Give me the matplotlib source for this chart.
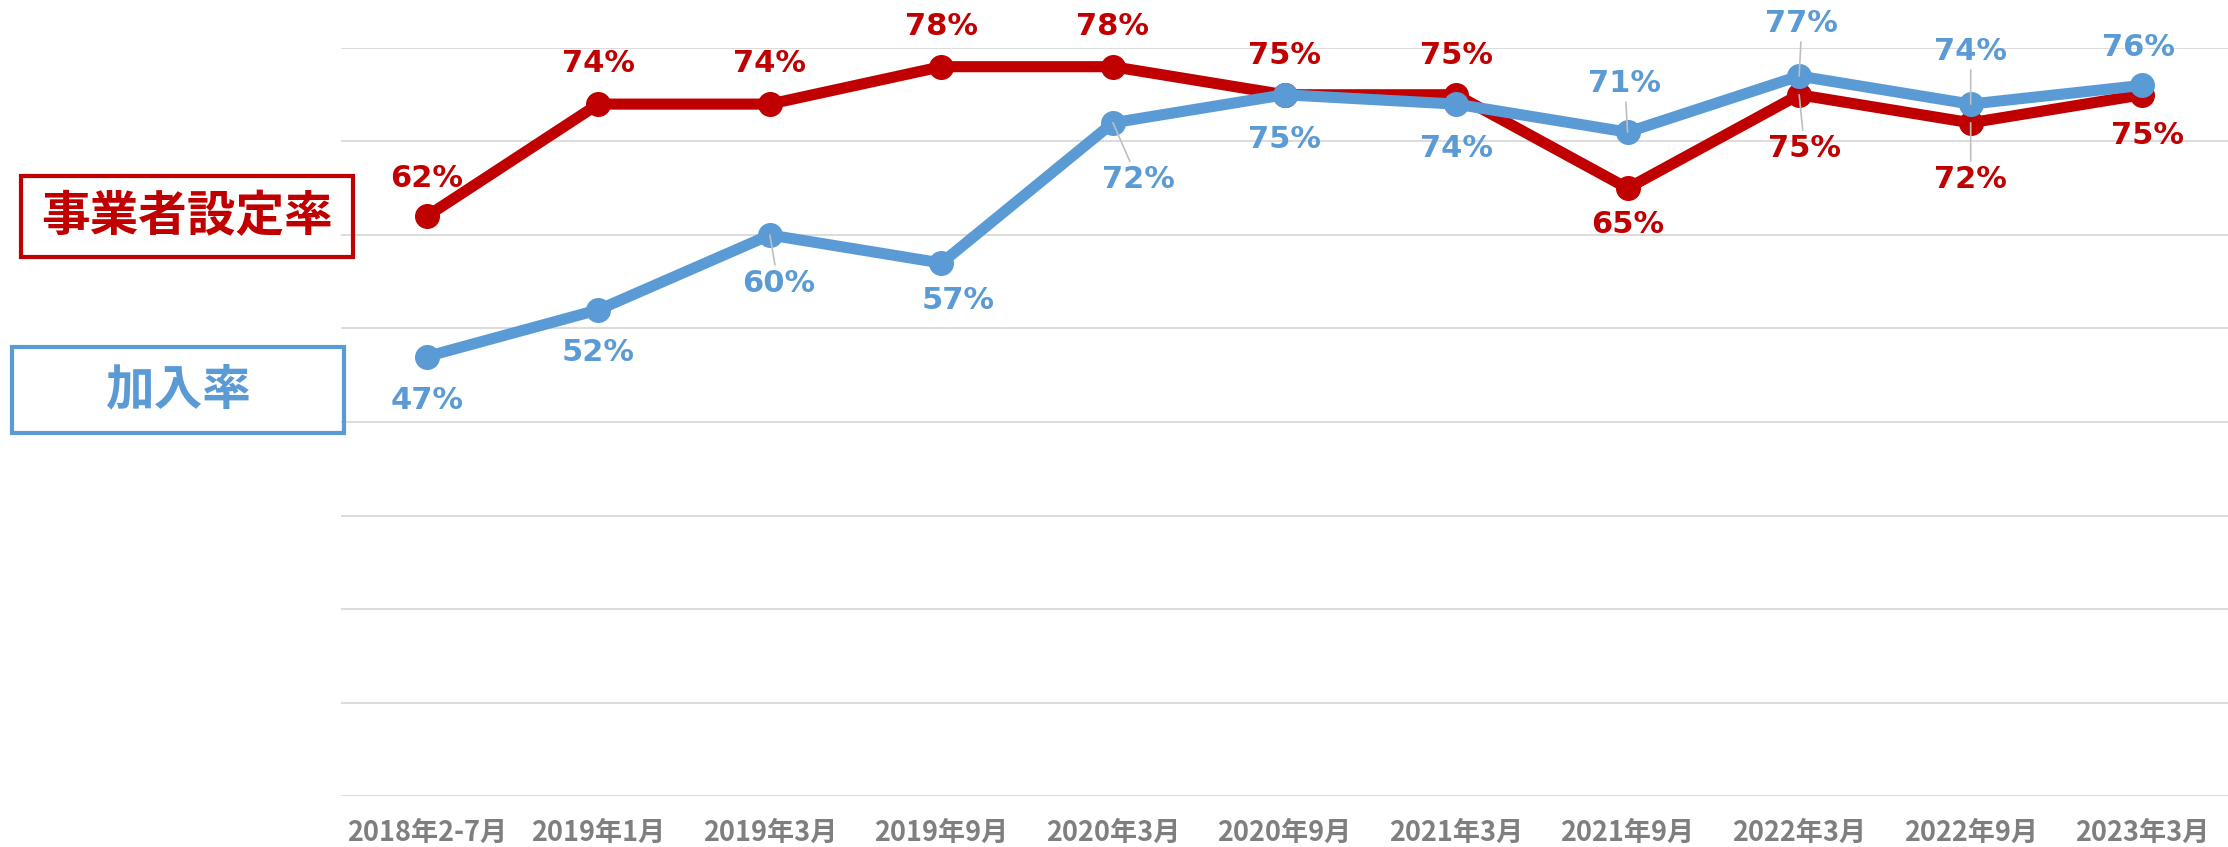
import numpy as np
import matplotlib
matplotlib.use('Agg')
import matplotlib.pyplot as plt
from matplotlib.patches import Rectangle

plt.rcParams['font.family'] = ['DejaVu Sans', 'Noto Sans CJK JP']

periods = ['2018年2-7月', '2019年1月', '2019年3月', '2019年9月', '2020年3月', '2020年9月',
           '2021年3月', '2021年9月', '2022年3月', '2022年9月', '2023年3月']
setting_rate = [62, 74, 74, 78, 78, 75, 75, 65, 75, 72, 75]
join_rate = [47, 52, 60, 57, 72, 75, 74, 71, 77, 74, 76]

RED = '#C00000'
BLUE = '#5B9BD5'

# label offsets (points) and whether a leader line is drawn
red_off = [(0, 27), (0, 29), (0, 29), (0, 29), (0, 29), (0, 28), (0, 28),
           (0, -26), (4, -39), (0, -41), (4, -29)]
red_lead = [False] * 7 + [False, True, True, False]
blue_off = [(0, -32), (0, -31), (6, -35), (12, -27), (18, -41), (0, -32), (0, -32),
            (-2, 35), (2, 38), (0, 38), (-3, 27)]
blue_lead = [False, False, True, False, True, False, False, True, True, True, False]

W, H = 2228, 847
fig = plt.figure(figsize=(W / 100, H / 100), dpi=100)
ax = fig.add_axes([341 / W, 1 - 796 / H, (W - 341) / W, (796 - 48) / H])

x = np.arange(len(periods))
ax.plot(x, setting_rate, color=RED, lw=8, marker='o', ms=17, zorder=3, solid_joinstyle='round')
ax.plot(x, join_rate, color=BLUE, lw=8, marker='o', ms=17, zorder=4, solid_joinstyle='round')

def add_labels(values, offsets, leads, color):
    for i, v in enumerate(values):
        dx, dy = offsets[i]
        props = None
        if leads[i]:
            props = dict(arrowstyle='-', color='#BFBFBF', lw=1.2, shrinkA=1, shrinkB=0)
        ax.annotate(f'{v}%', (x[i], v), xytext=(dx, dy), textcoords='offset points',
                    ha='center', va='center', fontsize=22, fontweight='bold',
                    color=color, annotation_clip=False, arrowprops=props, zorder=6)

add_labels(setting_rate, red_off, red_lead, RED)
add_labels(join_rate, blue_off, blue_lead, BLUE)

ax.set_xlim(-0.5, len(periods) - 0.5)
ax.set_ylim(0, 80)
ax.set_yticks(np.arange(0, 81, 10))
ax.yaxis.grid(True, color='#D9D9D9', lw=1.3)
ax.set_axisbelow(True)
ax.tick_params(axis='y', left=False, labelleft=False)
ax.tick_params(axis='x', bottom=False, pad=13)
ax.set_xticks(x)
ax.set_xticklabels(periods, fontsize=19.5, fontweight='bold', color='#7F7F7F',
                   family=['Noto Sans CJK JP', 'DejaVu Sans'])
for s in ax.spines.values():
    s.set_visible(False)

# legend boxes on the left
def label_box(x0, y0, x1, y1, text, color):
    fig.add_artist(Rectangle((x0 / W, 1 - y1 / H), (x1 - x0) / W, (y1 - y0) / H,
                             transform=fig.transFigure, fill=False, edgecolor=color, lw=3))
    fig.text((x0 + x1) / 2 / W, 1 - (y0 + y1) / 2 / H, text, ha='center', va='center',
             fontsize=35, fontweight='bold', color=color,
             family=['Noto Sans CJK JP', 'DejaVu Sans'])

label_box(21, 176, 353, 257, '事業者設定率', RED)
label_box(12, 347, 344, 433, '加入率', BLUE)

fig.savefig('out.png', dpi=100)
